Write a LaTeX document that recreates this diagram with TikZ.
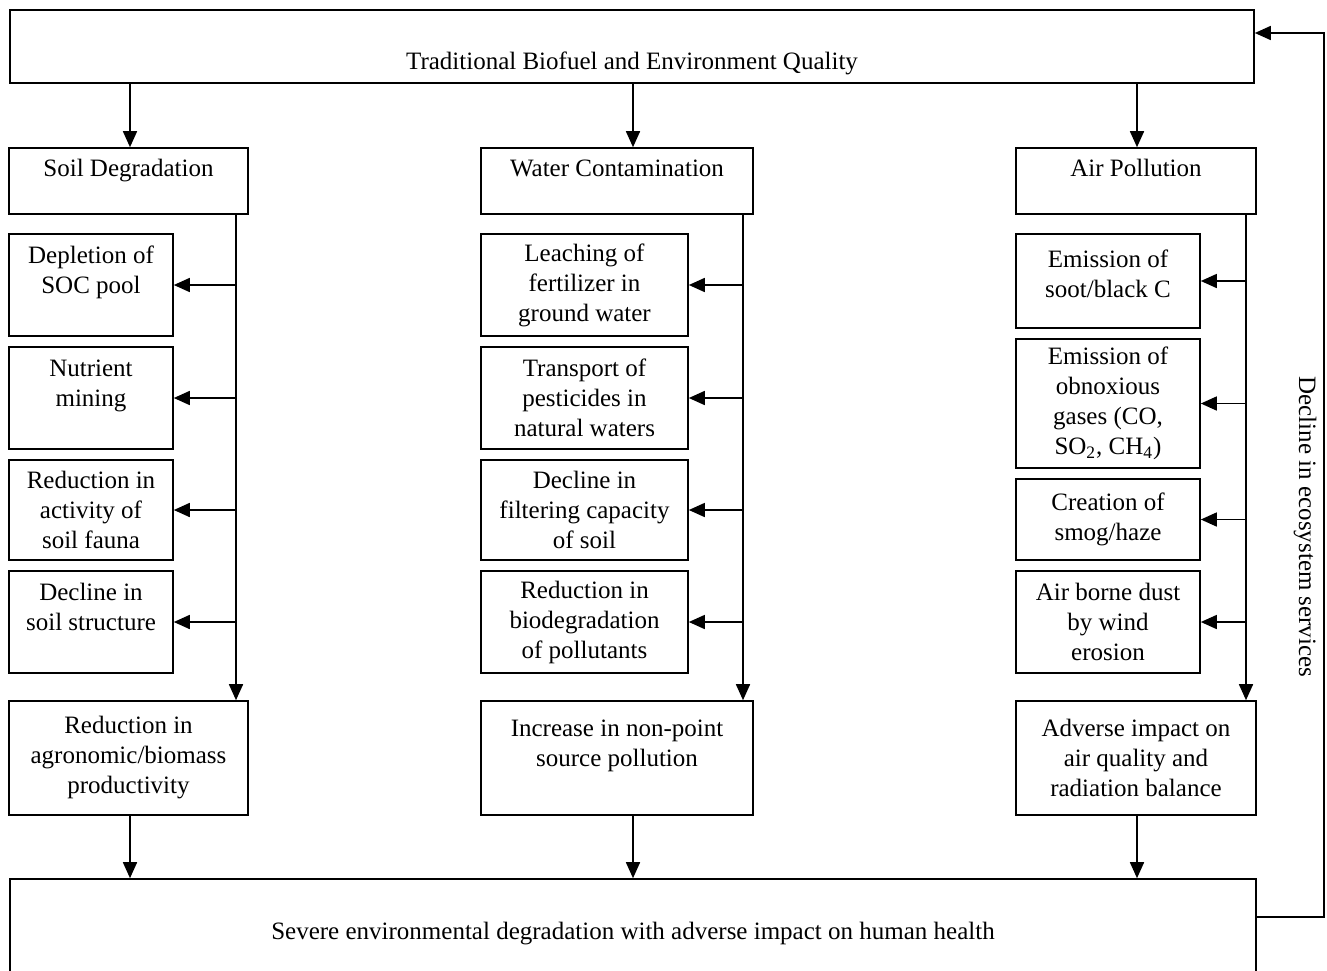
\documentclass[tikz,border=0pt]{standalone}
\usepackage{fontspec}
\setmainfont{Liberation Serif}
\usetikzlibrary{arrows.meta}

\begin{document}
\begin{tikzpicture}[x=0.5pt,y=-0.5pt,line width=0.8pt,
  font=\fontsize{12.5}{15}\selectfont,
  blk/.style={draw=black,align=center,inner sep=0pt},
  arr/.style={-{Triangle[length=8pt,width=7pt]}}]
\useasboundingbox (0,0) rectangle (1327,970);
% main boxes
\node[blk,minimum width=622pt,minimum height=36.5pt] at (632,46.5) (top) {\strut\\Traditional Biofuel and Environment Quality};
\node[blk,minimum width=623pt,minimum height=55pt] at (633,934) (bot) {Severe environmental degradation with adverse impact on human health};
% heads
\node[blk,minimum width=119.5pt,minimum height=33pt] at (128.5,181) (soil) {\strut Soil Degradation\\[-4pt]\strut};
\node[blk,minimum width=136pt,minimum height=33pt] at (617,181) (water) {\strut Water Contamination\\[-4pt]\strut};
\node[blk,minimum width=120pt,minimum height=33pt] at (1136,181) (air) {\strut Air Pollution\\[-4pt]\strut};
% soil column
\node[blk,minimum width=82pt,minimum height=51pt] at (91,285) (s1) {Depletion of\\SOC pool\\\mbox{}};
\node[blk,minimum width=82pt,minimum height=51pt] at (91,398) (s2) {Nutrient\\mining\\\mbox{}};
\node[blk,minimum width=82pt,minimum height=50pt] at (91,510) (s3) {Reduction in\\activity of\\soil fauna};
\node[blk,minimum width=82pt,minimum height=51pt] at (91,622) (s4) {Decline in\\soil structure\\\mbox{}};
% water column
\node[blk,minimum width=103.5pt,minimum height=51pt] at (584.5,285) (w1) {Leaching of\\fertilizer in\\ground water};
\node[blk,minimum width=103.5pt,minimum height=51pt] at (584.5,398) (w2) {Transport of\\pesticides in\\natural waters};
\node[blk,minimum width=103.5pt,minimum height=50pt] at (584.5,510) (w3) {Decline in\\filtering capacity\\of soil};
\node[blk,minimum width=103.5pt,minimum height=51pt] at (584.5,622) (w4) {Reduction in\\biodegradation\\of pollutants};
% air column
\node[blk,minimum width=92pt,minimum height=47pt] at (1108,281) (a1) {Emission of\\soot/black C\\[-8pt]\mbox{}};
\node[blk,minimum width=92pt,minimum height=64.5pt] at (1108,403.5) (a2) {Emission of\\obnoxious\\gases (CO,\\SO\textsubscript{2}, CH\textsubscript{4})};
\node[blk,minimum width=92pt,minimum height=40.5pt] at (1108,519.5) (a3) {Creation of\\smog/haze};
\node[blk,minimum width=92pt,minimum height=51pt] at (1108,622) (a4) {Air borne dust\\by wind\\erosion};
% results
\node[blk,minimum width=119.5pt,minimum height=57pt] at (128.5,758) (soilres) {Reduction in\\agronomic/biomass\\productivity};
\node[blk,minimum width=136pt,minimum height=57pt] at (617,758) (waterres) {Increase in non-point\\source pollution\\\mbox{}};
\node[blk,minimum width=120pt,minimum height=57pt] at (1136,758) (airres) {Adverse impact on\\air quality and\\radiation balance};
\node[rotate=-90] at (1305,527) (eco) {Decline in ecosystem services};
% columns and spines
\coordinate (ca) at (130,0);
\coordinate (cb) at (633,0);
\coordinate (cc) at (1137,0);
\coordinate (ssp) at (236,0);
\coordinate (wsp) at (743,0);
\coordinate (asp) at (1246,0);
\draw[arr] (top.south -| ca) -- (soil.north -| ca);
\draw[arr] (top.south -| cb) -- (water.north -| cb);
\draw[arr] (top.south -| cc) -- (air.north -| cc);
\draw[arr] (soil.south -| ssp) -- (soilres.north -| ssp);
\draw[arr] (water.south -| wsp) -- (waterres.north -| wsp);
\draw[arr] (air.south -| asp) -- (airres.north -| asp);
\foreach \n in {s1,s2,s3,s4} \draw[arr] (\n.east -| ssp) -- (\n.east);
\foreach \n in {w1,w2,w3,w4} \draw[arr] (\n.east -| wsp) -- (\n.east);
\foreach \n in {a1,a2,a3,a4} \draw[arr] (\n.east -| asp) -- (\n.east);
\draw[arr] (soilres.south -| ca) -- (bot.north -| ca);
\draw[arr] (waterres.south -| cb) -- (bot.north -| cb);
\draw[arr] (airres.south -| cc) -- (bot.north -| cc);
% feedback loop
\coordinate (fb1) at (1324,917);
\coordinate (fb2) at (1324,33);
\draw[arr] (bot.east |- fb1) -- (fb1) -- (fb2) -- (top.east |- fb2);
\end{tikzpicture}
\end{document}
